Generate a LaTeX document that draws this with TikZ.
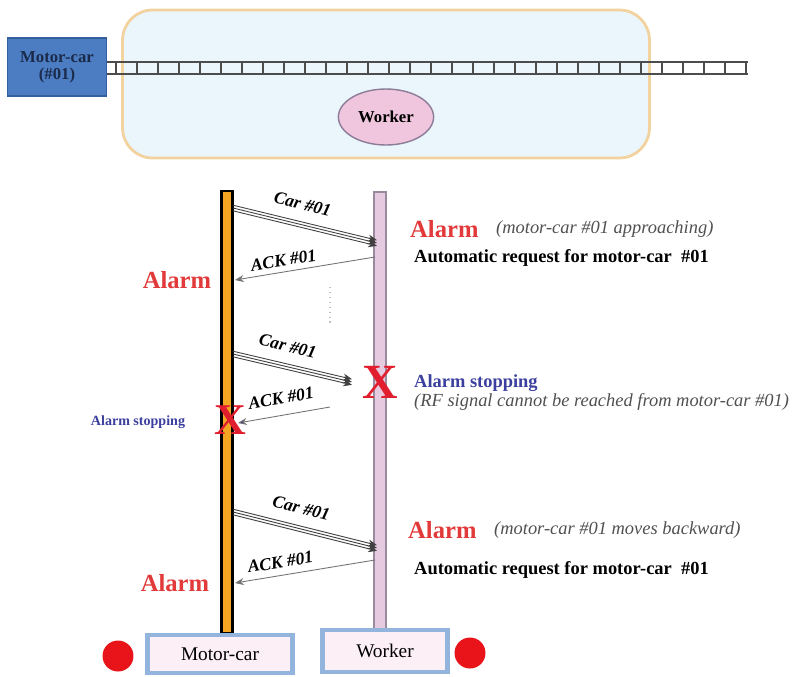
\documentclass[tikz,border=0pt]{standalone}
\usepackage{fontspec}
\setmainfont{Liberation Serif}
\usepackage{tikz}
\usetikzlibrary{positioning, arrows.meta, shapes.geometric}

\definecolor{zoneblue}{HTML}{EAF5FC}
\definecolor{zoneedge}{HTML}{F2D3A0}
\definecolor{carblue}{HTML}{4C7CC2}
\definecolor{caredge}{HTML}{34609E}
\definecolor{carink}{HTML}{1B2B4B}
\definecolor{workpink}{HTML}{EFC6DE}
\definecolor{workedge}{HTML}{8C7C98}
\definecolor{barorange}{HTML}{F4A623}
\definecolor{barpink}{HTML}{E6CAE0}
\definecolor{baredge}{HTML}{9A8AA0}
\definecolor{boxfill}{HTML}{FCEFF5}
\definecolor{boxedge}{HTML}{93B4DC}
\definecolor{alarmred}{HTML}{E23A3A}
\definecolor{stopblue}{HTML}{3B3F9E}
\definecolor{notegray}{HTML}{505050}
\definecolor{dotred}{HTML}{E8141A}
\definecolor{xred}{HTML}{E01E2E}

\tikzset{
  zone/.style={draw=zoneedge, line width=1.6pt, fill=zoneblue, rounded corners=0.6cm,
    minimum width=10.54cm, minimum height=2.96cm},
  rail/.style={draw=black!70, line width=0.7pt},
  carbox/.style={draw=caredge, fill=carblue, line width=0.8pt, minimum width=1.98cm,
    minimum height=1.16cm, align=center, text=carink,
    font=\fontsize{9.5}{9.5}\selectfont\bfseries},
  workell/.style={ellipse, draw=workedge, fill=workpink, line width=0.8pt,
    minimum width=1.64cm, minimum height=1.12cm, font=\fontsize{9.5}{11}\selectfont\bfseries},
  mcbar/.style={draw=black, fill=barorange, line width=1.2pt, minimum width=0.22cm,
    minimum height=8.84cm, inner sep=0pt},
  wkbar/.style={draw=baredge, fill=barpink, line width=0.8pt, minimum width=0.24cm,
    minimum height=8.8cm, inner sep=0pt},
  namebox/.style={draw=boxedge, line width=2.5pt, fill=boxfill, inner sep=0pt,
    font=\fontsize{11}{13}\selectfont},
  reddot/.style={circle, fill=dotred, minimum size=0.62cm, inner sep=0pt},
  carmsg/.style={draw=black!75, line width=0.5pt, -{Stealth[length=5pt,width=4pt]}},
  ackmsg/.style={draw=black!55, line width=0.5pt, -{Stealth[length=5pt,width=4pt]}},
  msglbl/.style={font=\fontsize{10}{12}\selectfont\bfseries\itshape, inner sep=1pt},
  alarmtxt/.style={text=alarmred, font=\fontsize{14}{16}\selectfont\bfseries},
  notetxt/.style={text=notegray, font=\fontsize{10.5}{12}\selectfont\itshape},
  reqtxt/.style={font=\fontsize{10.5}{12}\selectfont\bfseries},
  stoptxt/.style={text=stopblue, font=\fontsize{10.5}{12}\selectfont\bfseries},
  xmark/.style={text=xred, font=\fontsize{28}{28}\selectfont\bfseries, inner sep=0pt}
}

\begin{document}
\begin{tikzpicture}[x=0.02cm, y=-0.02cm]
\useasboundingbox (0,0) rectangle (796,677);

% zone and track
\node[zone] (zone) at (386,84) {};
\draw[rail] (106,62) -- (748,62);
\draw[rail] (106,74) -- (748,74);
\foreach \x in {116,137,...,746} \draw[rail] (\x,62) -- (\x,74);

% motor-car and worker
\node[carbox] (car) at (57,67) {Motor-car\\(\#01)};
\node[workell] (worker) at (386,117) {Worker};

% lifelines
\node[mcbar] (mcbar) at (227,412) {};
\node[wkbar] (wkbar) at (380,412) {};

% names at the bottom
\node[namebox, minimum width=2.9cm, minimum height=0.76cm] (mcname) at (220,654) {Motor-car};
\node[namebox, minimum width=2.5cm, minimum height=0.84cm] (wkname) at (385,651) {Worker};
\node[reddot] (dotl) at (118,656) {};
\node[reddot] (dotr) at (470,653) {};

% first exchange
\coordinate (c1a) at (233,208);
\coordinate (c1b) at (377,243);
\foreach \d in {-1.6,0,1.6}
  \draw[carmsg] ([yshift=\d pt]c1a) -- ([yshift=\d pt]c1b);
\path (c1a) -- (c1b) node[msglbl, pos=0.45, above=7pt, sloped] (lc1) {Car \#01};
\coordinate (a1a) at (375,257);
\coordinate (a1b) at (235,280);
\draw[ackmsg] (a1a) -- (a1b) node[msglbl, pos=0.64, above=2pt, sloped] (la1) {ACK \#01};

% dots
\coordinate (dta) at (330,287);
\coordinate (dtb) at (330,323);
\draw[gray!50, dotted, line width=0.8pt] (dta) -- (dtb);

% second exchange
\coordinate (c2a) at (233,354);
\coordinate (c2b) at (352,382);
\foreach \d in {-1.6,0,1.6}
  \draw[carmsg] ([yshift=\d pt]c2a) -- ([yshift=\d pt]c2b);
\path (c2a) -- (c2b) node[msglbl, pos=0.42, above=7pt, sloped] (lc2) {Car \#01};
\coordinate (a2a) at (330,407);
\coordinate (a2b) at (238,423);
\draw[ackmsg, -{Stealth[length=5pt,width=4pt,fill=stopblue]}] (a2a) -- (a2b)
  node[msglbl, pos=0.5, above=5pt, sloped] (la2) {ACK \#01};

% third exchange
\coordinate (c3a) at (233,512);
\coordinate (c3b) at (377,548);
\foreach \d in {-1.6,0,1.6}
  \draw[carmsg] ([yshift=\d pt]c3a) -- ([yshift=\d pt]c3b);
\path (c3a) -- (c3b) node[msglbl, pos=0.44, above=7pt, sloped] (lc3) {Car \#01};
\coordinate (a3a) at (375,560);
\coordinate (a3b) at (235,583);
\draw[ackmsg] (a3a) -- (a3b) node[msglbl, pos=0.66, above=3pt, sloped] (la3) {ACK \#01};

% lost signal
\node[xmark] (xwk) at (380,382) {X};
\node[xmark, font=\fontsize{25}{25}\selectfont\bfseries] (xmc) at (230,420) {X};

% texts on the left
\node[alarmtxt] (al1) at (177,280) {Alarm};
\node[stoptxt, font=\fontsize{8}{10}\selectfont\bfseries] (stl) at (138,422) {Alarm stopping};
\node[alarmtxt] (al2) at (175,583) {Alarm};

% texts on the right
\node[alarmtxt, anchor=west] (ar1) at (404,229) {Alarm};
\node[notetxt, right=3pt of ar1] (note1) {(motor-car \#01 approaching)};
\node[reqtxt, anchor=west] (req1) at (408,258) {Automatic request for motor-car\ \ \#01};
\node[stoptxt, anchor=west] (str) at (408,383) {Alarm stopping};
\node[notetxt, anchor=west] (rf) at (408,402) {(RF signal cannot be reached from motor-car \#01)};
\node[alarmtxt, anchor=west] (ar2) at (402,530) {Alarm};
\node[notetxt, right=3pt of ar2] (note2) {(motor-car \#01 moves backward)};
\node[reqtxt, anchor=west] (req2) at (408,570) {Automatic request for motor-car\ \ \#01};

\end{tikzpicture}
\end{document}
